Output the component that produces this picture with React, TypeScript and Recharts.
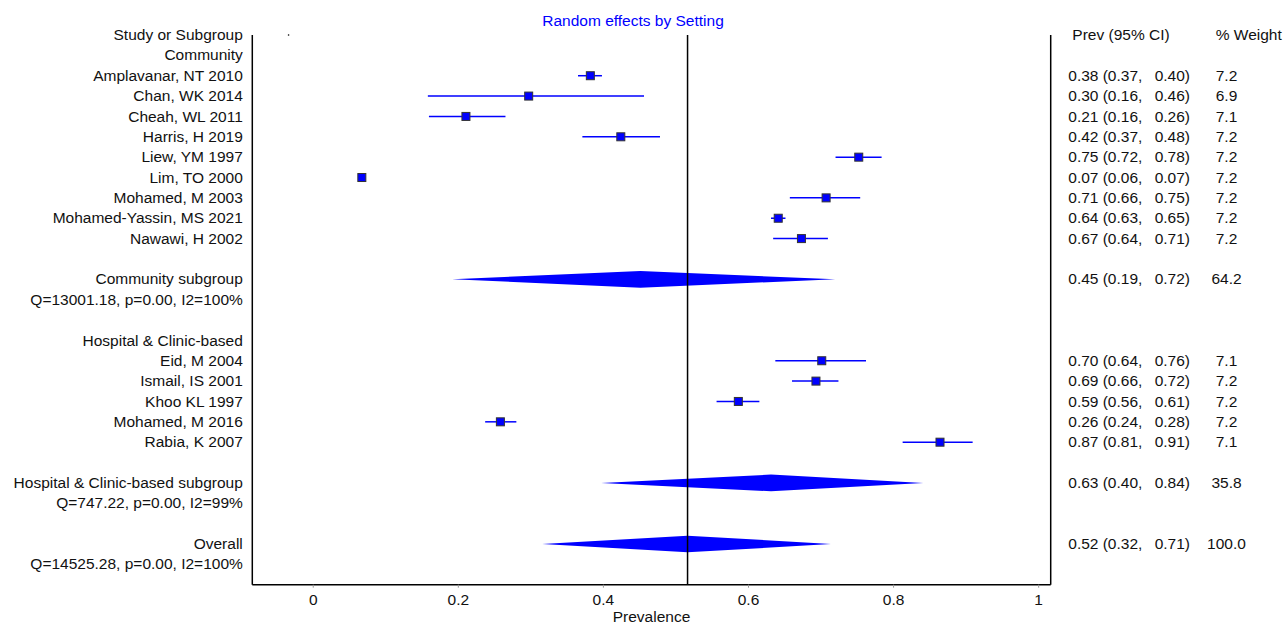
import React from "react";
import {
  ComposedChart, XAxis, YAxis, Scatter, ErrorBar,
  ReferenceLine, ReferenceArea, ReferenceDot,
} from "recharts";

const W = 1284;
const H = 627;
const FONT = '"Liberation Sans", Arial, sans-serif';
const BLUE = "#0000ff";

// rows from top to bottom (index = row on the y axis)
const ROW_LABELS = [
  "Study or Subgroup", "Community", "Amplavanar, NT 2010", "Chan, WK 2014", "Cheah, WL 2011",
  "Harris, H 2019", "Liew, YM 1997", "Lim, TO 2000", "Mohamed, M 2003", "Mohamed-Yassin, MS 2021",
  "Nawawi, H 2002", "", "Community subgroup", "Q=13001.18, p=0.00, I2=100%", "",
  "Hospital & Clinic-based", "Eid, M 2004", "Ismail, IS 2001", "Khoo KL 1997", "Mohamed, M 2016",
  "Rabia, K 2007", "", "Hospital & Clinic-based subgroup", "Q=747.22, p=0.00, I2=99%", "",
  "Overall", "Q=14525.28, p=0.00, I2=100%",
];
const ROW_PREV = [
  "", "", "0.38 (0.37, 0.40)", "0.30 (0.16, 0.46)", "0.21 (0.16, 0.26)",
  "0.42 (0.37, 0.48)", "0.75 (0.72, 0.78)", "0.07 (0.06, 0.07)", "0.71 (0.66, 0.75)", "0.64 (0.63, 0.65)",
  "0.67 (0.64, 0.71)", "", "0.45 (0.19, 0.72)", "", "",
  "", "0.70 (0.64, 0.76)", "0.69 (0.66, 0.72)", "0.59 (0.56, 0.61)", "0.26 (0.24, 0.28)",
  "0.87 (0.81, 0.91)", "", "0.63 (0.40, 0.84)", "", "",
  "0.52 (0.32, 0.71)", "",
];
const ROW_WEIGHT = [
  "", "", "7.2", "6.9", "7.1", "7.2", "7.2", "7.2", "7.2", "7.2",
  "7.2", "", "64.2", "", "", "", "7.1", "7.2", "7.2", "7.2",
  "7.1", "", "35.8", "", "", "100.0", "",
];
const HEADER_PREV = "Prev (95% CI)";
const HEADER_WEIGHT = "% Weight";
const ROWS = ROW_LABELS.map((_, i) => i);

// individual studies
const STUDY_ROWS = [2, 3, 4, 5, 6, 7, 8, 9, 10, 16, 17, 18, 19, 20];
const STUDY_EST = [0.382, 0.297, 0.2105, 0.424, 0.752, 0.067, 0.707, 0.641, 0.673, 0.701, 0.693, 0.586, 0.258, 0.864];
const STUDY_LO = [0.365, 0.158, 0.1595, 0.371, 0.72, 0.062, 0.657, 0.631, 0.634, 0.637, 0.66, 0.556, 0.237, 0.8125];
const STUDY_HI = [0.398, 0.456, 0.265, 0.478, 0.7835, 0.071, 0.754, 0.651, 0.7095, 0.762, 0.724, 0.615, 0.28, 0.909];

// pooled estimates (diamonds)
const POOLED_ROWS = [12, 22, 25];
const POOLED_EST = [0.451, 0.631, 0.516];
const POOLED_LO = [0.1916, 0.397, 0.3157];
const POOLED_HI = [0.7196, 0.841, 0.7137];

const OVERALL = 0.516;
const X_MIN = -0.084;
const X_MAX = 1.0166;
const X_TICKS = [0, 0.2, 0.4, 0.6, 0.8, 1];

const studyData = STUDY_ROWS.map((row, i) => ({
  x: STUDY_EST[i],
  y: row,
  err: [STUDY_EST[i] - STUDY_LO[i], STUDY_HI[i] - STUDY_EST[i]],
}));

const txt = { fontSize: 15.5, fill: "#111", fontFamily: FONT };

function LeftTick(props: any) {
  const { x, y, payload } = props;
  const label = ROW_LABELS[Math.round(payload.value)];
  if (!label) return <g />;
  return (
    <text x={x - 9.5} y={y} dy="0.33em" textAnchor="end" {...txt}>{label}</text>
  );
}

function RightTick(props: any) {
  const { x, y, payload } = props;
  const i = Math.round(payload.value);
  if (i === 0) {
    return (
      <g>
        <text x={x + 21.6} y={y} dy="0.33em" {...txt}>{HEADER_PREV}</text>
        <text x={x + 165} y={y} dy="0.33em" {...txt}>{HEADER_WEIGHT}</text>
      </g>
    );
  }
  const prev = ROW_PREV[i];
  if (!prev) return <g />;
  const [est, lo, hi] = prev.split(" ");
  return (
    <g>
      <text x={x + 17.6} y={y} dy="0.33em" {...txt}>{est}</text>
      <text x={x + 52} y={y} dy="0.33em" {...txt}>{lo}</text>
      <text x={x + 104} y={y} dy="0.33em" {...txt}>{hi}</text>
      <text x={x + 175.8} y={y} dy="0.33em" textAnchor="middle" {...txt}>{ROW_WEIGHT[i]}</text>
    </g>
  );
}

const squareShape = (p: any) => (
  <rect x={p.cx - 4} y={p.cy - 4} width={8} height={8} fill={BLUE} stroke="#333" strokeWidth={1} />
);

// diamond inside the ReferenceArea box; apex at the estimate
const diamondShape = (frac: number) => (p: any) => {
  const { x, y, width, height } = p;
  const cx = x + width * frac;
  const cy = y + height / 2;
  return (
    <polygon
      points={`${x},${cy} ${cx},${y} ${x + width},${cy} ${cx},${y + height}`}
      fill={BLUE}
      stroke="none"
    />
  );
};

export default function App() {
  return (
    <div style={{ position: "absolute", left: 0, top: 0, width: W, height: H, background: "#fff", fontFamily: FONT }}>
      <div
        style={{
          position: "absolute", left: 0, top: 12, width: 1266, textAlign: "center",
          fontSize: 15.5, lineHeight: "17px", color: BLUE,
        }}
      >
        Random effects by Setting
      </div>
      <ComposedChart width={W} height={H} margin={{ top: 35, right: 232.3, bottom: 0, left: 251.3 }}>
        <XAxis
          type="number"
          dataKey="x"
          domain={[X_MIN, X_MAX]}
          ticks={X_TICKS}
          allowDataOverflow
          height={42.3}
          axisLine={{ stroke: "#000", strokeWidth: 1.5 }}
          tickLine={{ stroke: "#999" }}
          tickSize={3}
          tickMargin={6}
          tick={txt}
          tickFormatter={(v) => String(v)}
          label={{ value: "Prevalence", position: "insideBottom", offset: 5, ...txt }}
        />
        <YAxis
          type="number"
          dataKey="y"
          domain={[0, 27]}
          reversed
          allowDataOverflow
          width={1}
          ticks={ROWS}
          interval={0}
          tick={LeftTick}
          tickLine={false}
          tickSize={0}
          tickMargin={0}
          axisLine={{ stroke: "#000", strokeWidth: 1.5 }}
        />
        <YAxis
          yAxisId="r"
          orientation="right"
          type="number"
          dataKey="y"
          domain={[0, 27]}
          reversed
          allowDataOverflow
          width={1}
          ticks={ROWS}
          interval={0}
          tick={RightTick}
          tickLine={false}
          tickSize={0}
          tickMargin={0}
          axisLine={{ stroke: "#000", strokeWidth: 1.5 }}
        />
        {POOLED_ROWS.map((row, i) => (
          <ReferenceArea
            key={`d-${row}`}
            x1={POOLED_LO[i]}
            x2={POOLED_HI[i]}
            y1={row - 0.41}
            y2={row + 0.41}
            shape={diamondShape((POOLED_EST[i] - POOLED_LO[i]) / (POOLED_HI[i] - POOLED_LO[i]))}
          />
        ))}
        <ReferenceLine x={OVERALL} stroke="#000" strokeWidth={1.5} />
        <ReferenceDot x={-0.034} y={0} r={0.8} fill="#000" stroke="none" />
        <Scatter data={studyData} shape={squareShape} isAnimationActive={false}>
          <ErrorBar dataKey="err" direction="x" width={0} stroke={BLUE} strokeWidth={1.5} isAnimationActive={false} />
        </Scatter>
        <Scatter yAxisId="r" data={studyData} shape={() => <g />} isAnimationActive={false} />
      </ComposedChart>
    </div>
  );
}
